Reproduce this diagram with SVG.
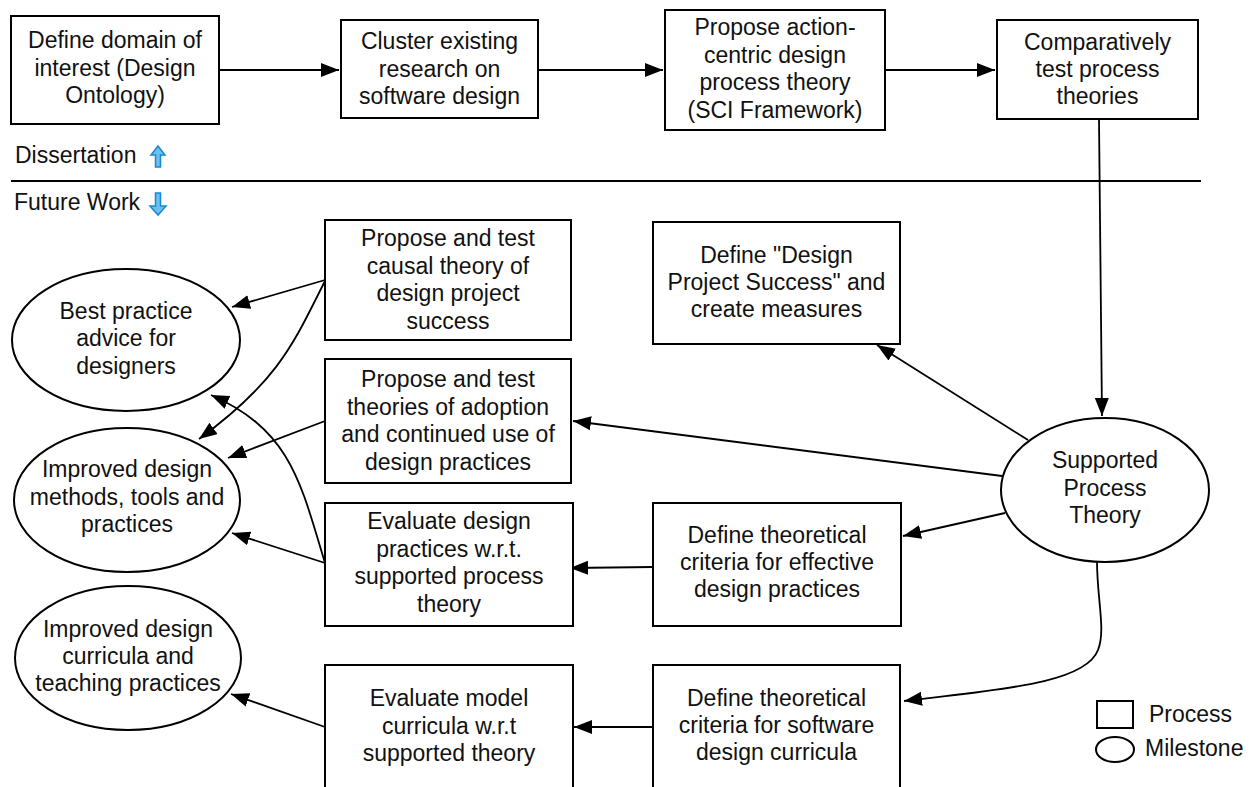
<svg xmlns="http://www.w3.org/2000/svg" width="1255" height="787" viewBox="0 0 1255 787">
<style>
.box{fill:#fff;stroke:#000;stroke-width:2}
.ell{fill:#fff;stroke:#000;stroke-width:2}
.t{font-family:"Liberation Sans",Arial,sans-serif;font-size:23px;fill:#111;text-anchor:middle}
.l{font-family:"Liberation Sans",Arial,sans-serif;font-size:23px;fill:#111}
.c{fill:none;stroke:#000;stroke-width:1.8}
.blue{fill:#6cc0ee;stroke:#1689d4;stroke-width:1.5}
</style>
<defs>
<marker id="ah" markerUnits="userSpaceOnUse" markerWidth="20" markerHeight="16" refX="18" refY="7" orient="auto">
<path d="M0,0 L18,7 L0,14 Z" fill="#000"/>
</marker>
</defs>
<rect width="1255" height="787" fill="#fff"/>

<g id="connectors">
<line class="c" x1="219" y1="70" x2="339" y2="70" marker-end="url(#ah)"/>
<line class="c" x1="538" y1="70" x2="663" y2="70" marker-end="url(#ah)"/>
<line class="c" x1="885" y1="70" x2="995" y2="70" marker-end="url(#ah)"/>
<line class="c" x1="1099" y1="119" x2="1102" y2="416" marker-end="url(#ah)"/>
<line class="c" x1="1028" y1="440" x2="877" y2="345" marker-end="url(#ah)"/>
<line class="c" x1="1002" y1="476" x2="573" y2="421" marker-end="url(#ah)"/>
<line class="c" x1="1005" y1="513" x2="903" y2="536" marker-end="url(#ah)"/>
<line class="c" x1="653" y1="567" x2="570" y2="568" marker-end="url(#ah)"/>
<path class="c" d="M1097,561 C1097,600 1106,630 1098,650 C1085,685 990,690 904,701" marker-end="url(#ah)"/>
<line class="c" x1="653" y1="727" x2="574" y2="727" marker-end="url(#ah)"/>
<line class="c" x1="325" y1="727" x2="231" y2="694" marker-end="url(#ah)"/>
<line class="c" x1="325" y1="563" x2="232" y2="533" marker-end="url(#ah)"/>
<line class="c" x1="325" y1="421" x2="228" y2="458" marker-end="url(#ah)"/>
<line class="c" x1="325" y1="280" x2="232" y2="307" marker-end="url(#ah)"/>
<path class="c" d="M325,281 C295,340 280,380 199,439" marker-end="url(#ah)"/>
<path class="c" d="M325,563 C300,480 290,430 211,395" marker-end="url(#ah)"/>
</g>

<g id="divider">
<line x1="11" y1="181" x2="1201" y2="181" stroke="#000" stroke-width="2"/>
<text class="l" x="15" y="163">Dissertation</text>
<path class="blue" d="M158,146 L165,155 L160.5,155 L160.5,167 L155.5,167 L155.5,155 L151,155 Z"/>
<text class="l" x="14" y="210">Future Work</text>
<path class="blue" d="M155.5,193 L160.5,193 L160.5,206 L166,206 L158,215 L150,206 L155.5,206 Z"/>
</g>

<g id="n1"><rect class="box" x="11" y="16" width="208" height="108"/>
<text class="t"><tspan x="115" y="48">Define domain of</tspan><tspan x="115" y="76">interest (Design</tspan><tspan x="115" y="103">Ontology)</tspan></text></g>

<g id="n2"><rect class="box" x="341" y="20" width="197" height="98"/>
<text class="t"><tspan x="439.5" y="49">Cluster existing</tspan><tspan x="439.5" y="76.5">research on</tspan><tspan x="439.5" y="104">software design</tspan></text></g>

<g id="n3"><rect class="box" x="665" y="10" width="220" height="120"/>
<text class="t"><tspan x="775" y="35">Propose action-</tspan><tspan x="775" y="62.5">centric design</tspan><tspan x="775" y="90">process theory</tspan><tspan x="775" y="117.5">(SCI Framework)</tspan></text></g>

<g id="n4"><rect class="box" x="997" y="20" width="201" height="99"/>
<text class="t"><tspan x="1097.5" y="49.5">Comparatively</tspan><tspan x="1097.5" y="77">test process</tspan><tspan x="1097.5" y="104">theories</tspan></text></g>

<g id="n5"><rect class="box" x="325" y="220" width="246" height="120"/>
<text class="t"><tspan x="448" y="246">Propose and test</tspan><tspan x="448" y="273.5">causal theory of</tspan><tspan x="448" y="301">design project</tspan><tspan x="448" y="328.5">success</tspan></text></g>

<g id="n6"><rect class="box" x="325" y="359" width="246" height="124"/>
<text class="t"><tspan x="448" y="387">Propose and test</tspan><tspan x="448" y="414.5">theories of adoption</tspan><tspan x="448" y="442">and continued use of</tspan><tspan x="448" y="469.5">design practices</tspan></text></g>

<g id="n7"><rect class="box" x="325" y="503" width="248" height="123"/>
<text class="t"><tspan x="449" y="529">Evaluate design</tspan><tspan x="449" y="556.5">practices w.r.t.</tspan><tspan x="449" y="584">supported process</tspan><tspan x="449" y="611.5">theory</tspan></text></g>

<g id="n8"><rect class="box" x="325" y="665" width="248" height="140"/>
<text class="t"><tspan x="449" y="706">Evaluate model</tspan><tspan x="449" y="733.5">curricula w.r.t</tspan><tspan x="449" y="761">supported theory</tspan></text></g>

<g id="n9"><rect class="box" x="653" y="222" width="247" height="122"/>
<text class="t"><tspan x="776.5" y="263">Define "Design</tspan><tspan x="776.5" y="290">Project Success" and</tspan><tspan x="776.5" y="317">create measures</tspan></text></g>

<g id="n10"><rect class="box" x="653" y="503" width="248" height="123"/>
<text class="t"><tspan x="777" y="543">Define theoretical</tspan><tspan x="777" y="570">criteria for effective</tspan><tspan x="777" y="597">design practices</tspan></text></g>

<g id="n11"><rect class="box" x="653" y="665" width="247" height="140"/>
<text class="t"><tspan x="776.5" y="706">Define theoretical</tspan><tspan x="776.5" y="733">criteria for software</tspan><tspan x="776.5" y="760">design curricula</tspan></text></g>

<g id="n12"><ellipse class="ell" cx="1105" cy="490" rx="104" ry="72"/>
<text class="t"><tspan x="1105" y="468">Supported</tspan><tspan x="1105" y="495.5">Process</tspan><tspan x="1105" y="523">Theory</tspan></text></g>

<g id="n13"><ellipse class="ell" cx="126" cy="340" rx="114" ry="71"/>
<text class="t"><tspan x="126" y="318.5">Best practice</tspan><tspan x="126" y="346">advice for</tspan><tspan x="126" y="373.5">designers</tspan></text></g>

<g id="n14"><ellipse class="ell" cx="127" cy="500" rx="113" ry="72"/>
<text class="t"><tspan x="127" y="477">Improved design</tspan><tspan x="127" y="505">methods, tools and</tspan><tspan x="127" y="532">practices</tspan></text></g>

<g id="n15"><ellipse class="ell" cx="128" cy="658" rx="113" ry="72"/>
<text class="t"><tspan x="128" y="637">Improved design</tspan><tspan x="128" y="664">curricula and</tspan><tspan x="128" y="691">teaching practices</tspan></text></g>

<g id="legend">
<rect class="box" x="1097" y="701" width="36" height="27"/>
<text class="l" x="1149" y="722">Process</text>
<ellipse class="ell" cx="1115" cy="749.5" rx="19" ry="12.5"/>
<text class="l" x="1145" y="756">Milestone</text>
</g>
</svg>
